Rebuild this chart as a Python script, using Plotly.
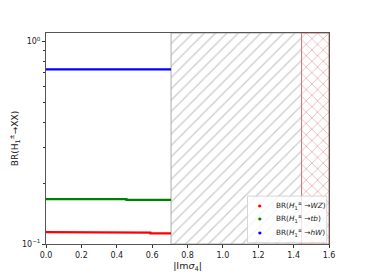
import plotly.graph_objects as go

# |Im sigma_4| sample breakpoints and branching ratios
x_wz = [0.0, 0.14, 0.14, 0.59, 0.59, 0.707]
br_wz = [0.1145, 0.1145, 0.1138, 0.1138, 0.1128, 0.1128]
x_tb = [0.0, 0.455, 0.455, 0.707]
br_tb = [0.1665, 0.1665, 0.1650, 0.1650]
x_hw = [0.0, 0.707]
br_hw = [0.728, 0.728]

# excluded regions
grey_region = [0.707, 1.6]
red_region = [1.445, 1.6]
y_lo, y_hi = 0.1, 1.1

xticks = [0.0, 0.2, 0.4, 0.6, 0.8, 1.0, 1.2, 1.4, 1.6]
yticks = [0.1, 1.0]
yticklabels = ["10<sup>\u22121</sup>", "10<sup>0</sup>"]

legend_names = ["BR(<i>H</i><sub>1</sub><sup>\u00b1</sup> \u2192<i>WZ</i>)",
                "BR(<i>H</i><sub>1</sub><sup>\u00b1</sup> \u2192<i>tb</i>)",
                "BR(<i>H</i><sub>1</sub><sup>\u00b1</sup> \u2192<i>hW</i>)"]
colors = ["red", "green", "blue"]

FONT = "DejaVu Sans"

def box(r):
    return [r[0], r[1], r[1], r[0], r[0]], [y_lo, y_lo, y_hi, y_hi, y_lo]

fig = go.Figure()
gx, gy = box(grey_region)
fig.add_trace(go.Scatter(x=gx, y=gy, mode="lines", fill="toself", showlegend=False, hoverinfo="skip",
                         line=dict(color="#aaaaaa", width=1),
                         fillcolor="white",
                         fillpattern=dict(shape="/", fgcolor="#9e9e9e", bgcolor="white", size=8, solidity=0.17)))
rx, ry = box(red_region)
fig.add_trace(go.Scatter(x=rx, y=ry, mode="lines", fill="toself", showlegend=False, hoverinfo="skip",
                         line=dict(color="#d07070", width=1),
                         fillcolor="white",
                         fillpattern=dict(shape="x", fgcolor="#d06a6a", bgcolor="white", size=8, solidity=0.2)))

for xs, ys, c in zip([x_wz, x_tb, x_hw], [br_wz, br_tb, br_hw], colors):
    fig.add_trace(go.Scatter(x=xs, y=ys, mode="lines", line=dict(color=c, width=2.2),
                             showlegend=False, hoverinfo="skip"))

# matplotlib-style legend box (lower right), entries 13 px apart
fig.add_shape(type="rect", xref="paper", yref="paper", x0=0.712, x1=0.992, y0=0.006, y1=0.227,
              line=dict(color="#d6d6d6", width=1), fillcolor="rgba(255,255,255,0.8)", layer="above")
for i, (name, c) in enumerate(zip(legend_names, colors)):
    yy = 0.1815 - i * 0.0625
    fig.add_annotation(x=0.756, y=yy, xref="paper", yref="paper", text="\u25cf", showarrow=False,
                       font=dict(size=4, color=c), xanchor="center", yanchor="middle")
    fig.add_annotation(x=0.804, y=yy, xref="paper", yref="paper", text=name, showarrow=False,
                       font=dict(size=7.3, color="#222"), xanchor="left", yanchor="middle")

fig.update_xaxes(range=[0, 1.6], tickvals=xticks, ticktext=[f"{v:.1f}" for v in xticks],
                 ticks="outside", ticklen=3, tickcolor="#333", showgrid=False, zeroline=False,
                 showline=True, linecolor="#555", linewidth=1, mirror=True, automargin=False,
                 tickfont=dict(size=8, color="#222"),
                 title=dict(text="|Im<i>\u03c3</i><sub>4</sub>|", font=dict(size=9.5, color="#222"), standoff=1))
fig.update_yaxes(type="log", range=[-1, 0.0414], tickvals=yticks, ticktext=yticklabels,
                 ticks="outside", ticklen=3, tickcolor="#333", showgrid=False, zeroline=False,
                 minor=dict(ticks="outside", ticklen=2, tickcolor="#333", dtick="D1", showgrid=False),
                 showline=True, linecolor="#555", linewidth=1, mirror=True, automargin=False,
                 tickfont=dict(size=8, color="#222"),
                 title=dict(text="BR(H<sub>1</sub><sup>\u00b1</sup>\u2192XX)", font=dict(size=9, color="#222"), standoff=9))
fig.update_layout(width=358, height=266, margin=dict(l=38, r=37, t=25, b=30),
                  paper_bgcolor="white", plot_bgcolor="white", font=dict(family=FONT),
                  showlegend=False)
fig.write_html("out.html")
